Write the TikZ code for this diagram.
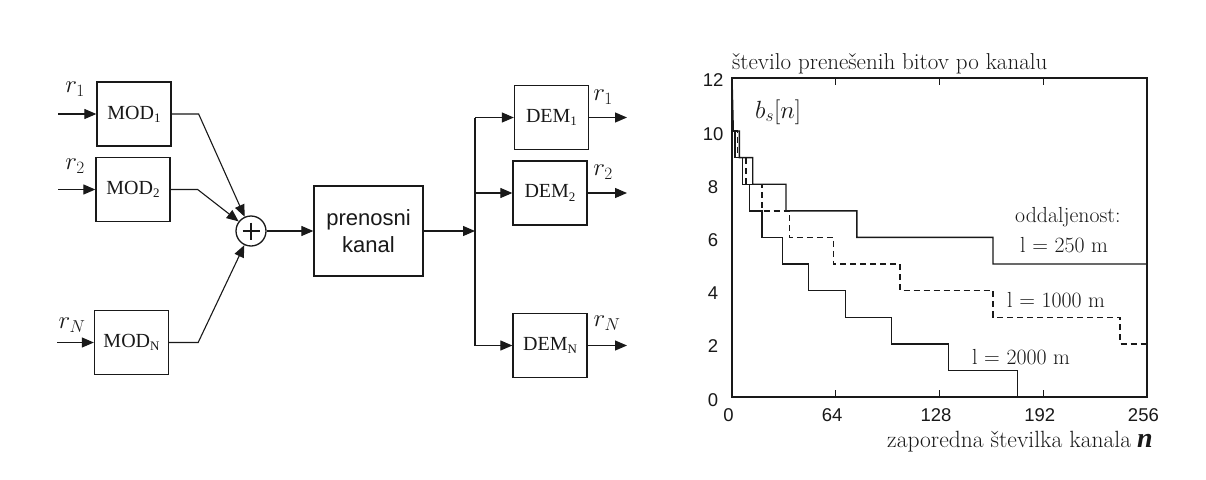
\documentclass[tikz,border=0pt]{standalone}
\usepackage{fontspec}
\usetikzlibrary{arrows.meta}
\newfontfamily\lserif{Liberation Serif}
\newfontfamily\lsans{Liberation Sans}
\newcommand\mysub[1]{\raisebox{-0.35ex}{\fontsize{13}{13}\selectfont #1}}
\begin{document}
\begin{tikzpicture}[x=1pt,y=-1pt,color=black!90,
  blk/.style={draw, line width=1.3pt, minimum width=74pt, minimum height=64pt, inner sep=0pt,
    font=\lserif\fontsize{20}{22}\selectfont},
  arr/.style={-{Triangle[length=12pt,width=10pt]}, line width=1.1pt},
  lbl/.style={font=\fontsize{24}{26}\selectfont, inner sep=0pt},
  tk/.style={font=\lsans\fontsize{18.5}{20}\selectfont, inner sep=0pt},
  txt/.style={font=\fontsize{21.8}{24}\selectfont, inner sep=0pt},
  crv/.style={line width=1.4pt, line join=miter},
  dcrv/.style={crv, dash pattern=on 6pt off 4pt}]
\useasboundingbox[fill=white] (0,0) rectangle (1206,479);

% modulators
\node[blk] (m1) at (134,114) {MOD\mysub{1}};
\node[blk] (m2) at (133,189.5) {MOD\mysub{2}};
\node[blk] (mn) at (131.5,342.5) {MOD\mysub{N}};
\coordinate (i1) at (58,114);
\coordinate (i2) at (58,189.5);
\coordinate (in) at (57,342.5);
\draw[arr] (i1) -- (m1.west);
\draw[arr] (i2) -- (m2.west);
\draw[arr] (in) -- (mn.west);
\node[lbl] (r1) at (75,89) {$r_1$};
\node[lbl] (r2) at (75,166) {$r_2$};
\node[lbl] (rn) at (72,325) {$r_N$};

% summer
\node[draw, circle, minimum size=30pt, line width=1.3pt, inner sep=0pt] (sum) at (251,231) {};
\draw[line width=2.8pt] (sum.center) ++(-8.5,0) -- ++(17,0);
\draw[line width=2.8pt] (sum.center) ++(0,-8.5) -- ++(0,17);
\draw[arr] (m1.east) -- ++(27,0) -- (sum);
\draw[arr] (m2.east) -- ++(27,0) -- (sum);
\draw[arr] (mn.east) -- ++(29,0) -- (sum);

% channel
\node[blk, font=\lsans\fontsize{22}{26.7}\selectfont, minimum width=109pt, minimum height=90pt, align=center]
  (k) at (368.5,231) {prenosni\\kanal};
\draw[arr] (sum) -- (k);
\coordinate (sp) at (475,231);
\draw[arr] (k) -- (sp);

% demodulators
\node[blk] (d1) at (551.5,117.5) {DEM\mysub{1}};
\node[blk] (d2) at (550,193) {DEM\mysub{2}};
\node[blk] (dn) at (550,345.5) {DEM\mysub{N}};
\coordinate (vt) at (475,117.5);
\coordinate (vb) at (475,345.5);
\draw[line width=1.1pt] (vt) -- (vb);
\draw[arr] (vt) -- (d1.west);
\draw[arr] (sp |- d2.west) -- (d2.west);
\draw[arr] (vb) -- (dn.west);
\coordinate (o1) at (627,117.5);
\coordinate (o2) at (627,193);
\coordinate (on) at (627,345.5);
\draw[arr] (d1.east) -- (o1);
\draw[arr] (d2.east) -- (o2);
\draw[arr] (dn.east) -- (on);
\node[lbl] (s1) at (603,97) {$r_1$};
\node[lbl] (s2) at (603,172) {$r_2$};
\node[lbl] (sn) at (607,323) {$r_N$};

% plot
\begin{scope}[shift={(732,397)}, x=1.621pt, y=26.6pt]
  \draw[line width=1.4pt] (0,0) rectangle (256,12);
  \foreach \t in {64,128,192} {
    \draw[line width=1.1pt] (\t,0) -- (\t,0.27);
    \draw[line width=1.1pt] (\t,12) -- (\t,11.73);
  }
  \foreach \v in {0,2,...,12} {
    \node[tk] (yt\v) at (-11.7,\v-0.1) {\v};
  }
  \foreach \v in {0,64,128,192,256} {
    \node[tk] (xt\v) at (\v-2.2,-0.68) {\v};
  }
  % l = 250 m
  \draw[crv] (0,12) -- (0.8,10) -- (4.5,10) -- (4.5,9) -- (12.8,9) -- (12.8,8) -- (33.3,8)
    -- (33.3,7) -- (77,7) -- (77,6) -- (161,6) -- (161,5) -- (256,5);
  % l = 2000 m
  \draw[crv] (0.8,10) -- (1.8,10) -- (1.8,9) -- (6.6,9) -- (6.6,8) -- (10.7,8) -- (10.7,7)
    -- (18.5,7) -- (18.5,6) -- (31.3,6) -- (31.3,5) -- (47,5) -- (47,4) -- (70,4) -- (70,3)
    -- (98.5,3) -- (98.5,2) -- (133.4,2) -- (133.4,1) -- (176,1) -- (176,0);
  % l = 1000 m
  \draw[dcrv] (0.8,10) -- (3.5,10) -- (3.5,9) -- (8.6,9) -- (8.6,8) -- (18.5,8) -- (18.5,7)
    -- (35.3,7) -- (35.3,6) -- (62.5,6) -- (62.5,5) -- (103.6,5) -- (103.6,4) -- (161,4)
    -- (161,3) -- (239.4,3) -- (239.4,2) -- (256,2);
\end{scope}

\node[txt, anchor=base west, font=\fontsize{23}{25}\selectfont] (yl) at (732,69) {število prenešenih bitov po kanalu};
\node[txt, anchor=base west, font=\fontsize{23.5}{25}\selectfont] (xl) at (887,447) {zaporedna številka kanala};
\node[anchor=base west, inner sep=0pt, font=\lserif\bfseries\itshape\fontsize{28}{28}\selectfont] (xn) at (1137,447) {n};
\node[anchor=base west, inner sep=0pt, font=\fontsize{27}{30}\selectfont] (bs) at (755,118) {$b_s[n]$};
\node[txt, anchor=base west] (od) at (1015,222) {oddaljenost:};
\node[txt, anchor=base west] (l1) at (1020,252) {l = 250 m};
\node[txt, anchor=base west] (l2) at (1007,307.5) {l = 1000 m};
\node[txt, anchor=base west] (l3) at (972,364) {l = 2000 m};
\end{tikzpicture}
\end{document}
